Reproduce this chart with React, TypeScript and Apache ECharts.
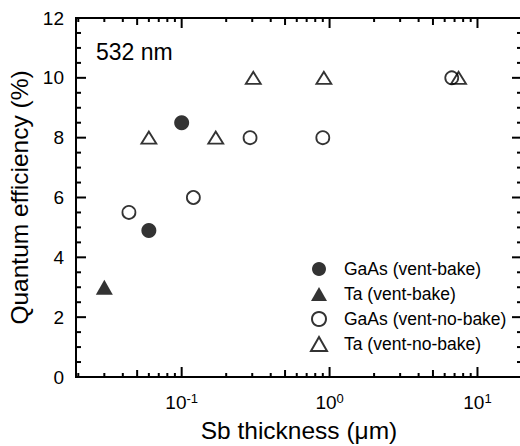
import React, { useEffect, useRef } from "react";
import * as echarts from "echarts";

// Sb thickness (µm) vs quantum efficiency (%) at 532 nm
const gaasBakeX = [0.1, 0.06];
const gaasBakeY = [8.5, 4.9];
const taBakeX = [0.03];
const taBakeY = [3.0];
const gaasNoBakeX = [0.044, 0.12, 0.29, 0.9, 6.7];
const gaasNoBakeY = [5.5, 6.0, 8.0, 8.0, 10.0];
const taNoBakeX = [0.06, 0.17, 0.305, 0.915, 7.45];
const taNoBakeY = [8.0, 8.0, 10.0, 10.0, 10.0];

const seriesNames = [
  "GaAs (vent-bake)",
  "Ta (vent-bake)",
  "GaAs (vent-no-bake)",
  "Ta (vent-no-bake)",
];

// tick positions of the frame
const xMajorTicks = [0.1, 1, 10];
const xMidTicks = [0.05, 0.5, 5];
const xMinorTicks = [
  0.02, 0.03, 0.04, 0.06, 0.07, 0.08, 0.09,
  0.2, 0.3, 0.4, 0.6, 0.7, 0.8, 0.9,
  2, 3, 4, 6, 7, 8, 9,
];
const yMajorTicks = [0, 2, 4, 6, 8, 10, 12];
const yMinorTicks = [
  0.5, 1, 1.5, 2.5, 3, 3.5, 4.5, 5, 5.5, 6.5, 7, 7.5, 8.5, 9, 9.5, 10.5, 11, 11.5,
];

const X_MIN = 0.0193;
const X_MAX = 20;
const Y_MIN = 0;
const Y_MAX = 12;

const FONT = "'Liberation Sans', Arial, Helvetica, sans-serif";
const INK = "#000";

const pairs = (xs: number[], ys: number[]) => xs.map((x, i) => [x, ys[i]]);

// [x, y, length] rows: x ticks on bottom (y = Y_MIN) and top (y = Y_MAX) edges
const xTickRows = (vals: number[], len: number) =>
  vals.flatMap((v) => [[v, Y_MIN, len], [v, Y_MAX, len]]);
// y ticks on left (x = X_MIN) and right (x = X_MAX) edges
const yTickRows = (vals: number[], len: number) =>
  vals.flatMap((v) => [[X_MIN, v, len], [X_MAX, v, len]]);

const tickRows = [
  ...xTickRows(xMajorTicks, 10),
  ...xTickRows(xMidTicks, 7),
  ...xTickRows(xMinorTicks, 4),
  ...yTickRows(yMajorTicks.slice(1, -1), 10),
  ...yTickRows(yMinorTicks, 5),
];

export default function App() {
  const ref = useRef<HTMLDivElement>(null);

  useEffect(() => {
    if (!ref.current) return;
    const chart = echarts.init(ref.current, undefined, { renderer: "svg" });

    const openStyle = { color: "transparent", borderColor: INK, borderWidth: 1.8 };

    chart.setOption({
      animation: false,
      grid: {
        left: 76,
        top: 18,
        right: -2,
        bottom: 69,
        containLabel: false,
        outerBoundsMode: "none",
        show: true,
        borderColor: INK,
        borderWidth: 2,
        backgroundColor: "transparent",
      },
      xAxis: {
        type: "log",
        min: X_MIN,
        max: X_MAX,
        axisLine: { show: false },
        axisTick: { show: false },
        minorTick: { show: false },
        splitLine: { show: false },
        axisLabel: {
          show: true,
          margin: 15,
          customValues: xMajorTicks,
          formatter: (v: number) => `{b|10}{s|${Math.round(Math.log10(v))}}`,
          rich: {
            b: { fontFamily: FONT, fontSize: 19, color: INK, lineHeight: 20 },
            s: { fontFamily: FONT, fontSize: 13, color: INK, verticalAlign: "top", lineHeight: 13 },
          },
        },
        name: "Sb thickness (\u03bcm)",
        nameLocation: "middle",
        nameGap: 41,
        nameTextStyle: { fontFamily: FONT, fontSize: 24.5, color: INK },
      },
      yAxis: {
        type: "value",
        min: Y_MIN,
        max: Y_MAX,
        interval: 2,
        axisLine: { show: false },
        axisTick: { show: false },
        minorTick: { show: false },
        splitLine: { show: false },
        axisLabel: { show: true, margin: 12, fontFamily: FONT, fontSize: 19, color: INK },
        name: "Quantum efficiency (%)",
        nameLocation: "middle",
        nameGap: 40,
        nameTextStyle: { fontFamily: FONT, fontSize: 24.5, color: INK },
      },
      legend: {
        orient: "vertical",
        left: 305,
        top: 255,
        itemWidth: 16,
        itemHeight: 14,
        itemGap: 7,
        data: seriesNames,
        textStyle: { fontFamily: FONT, fontSize: 17.5, color: INK, padding: [0, 0, 0, 12] },
      },
      graphic: [
        {
          type: "text",
          left: 96,
          top: 40,
          style: { text: "532 nm", fontFamily: FONT, fontSize: 23, fill: INK },
        },
      ],
      series: [
        {
          // frame ticks, pointing into the plot area
          type: "custom",
          silent: true,
          clip: false,
          data: tickRows,
          renderItem: (_params: any, api: any) => {
            const x = api.value(0);
            const y = api.value(1);
            const len = api.value(2);
            const p = api.coord([x, y]);
            let dx = 0;
            let dy = 0;
            if (x === X_MIN) dx = len;
            else if (x === X_MAX) dx = -len;
            else if (y === Y_MIN) dy = -len;
            else dy = len;
            return {
              type: "line",
              shape: { x1: p[0], y1: p[1], x2: p[0] + dx, y2: p[1] + dy },
              style: { stroke: INK, lineWidth: 2 },
            };
          },
        },
        {
          name: seriesNames[0],
          type: "scatter",
          symbol: "circle",
          symbolSize: 15,
          itemStyle: { color: INK },
          data: pairs(gaasBakeX, gaasBakeY),
        },
        {
          name: seriesNames[1],
          type: "scatter",
          symbol: "triangle",
          symbolSize: [17, 15],
          itemStyle: { color: INK },
          data: pairs(taBakeX, taBakeY),
        },
        {
          name: seriesNames[2],
          type: "scatter",
          symbol: "circle",
          symbolSize: 13,
          itemStyle: openStyle,
          data: pairs(gaasNoBakeX, gaasNoBakeY),
        },
        {
          name: seriesNames[3],
          type: "scatter",
          symbol: "triangle",
          symbolSize: [15, 12],
          itemStyle: openStyle,
          data: pairs(taNoBakeX, taNoBakeY),
        },
      ],
    });

    return () => chart.dispose();
  }, []);

  return (
    <div
      ref={ref}
      style={{ position: "fixed", left: 0, top: 0, width: 520, height: 446, background: "#fff" }}
    />
  );
}
